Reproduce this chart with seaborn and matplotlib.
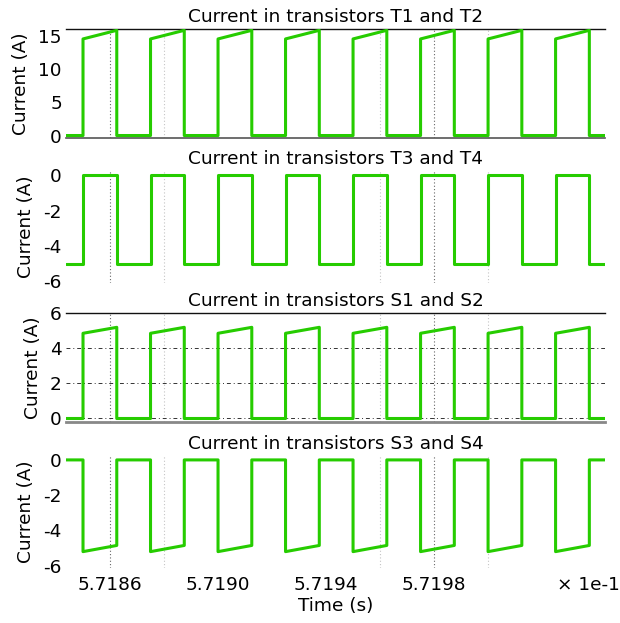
import numpy as np
import pandas as pd
import matplotlib
matplotlib.use("Agg")
import matplotlib.pyplot as plt
import seaborn as sns

# ---- data (time in seconds) ----
t_start = 0.5718437
t_end = 0.5720433
rise_times = [0.5718500, 0.5718750, 0.5719000, 0.5719250,
              0.5719500, 0.5719750, 0.5720000, 0.5720250]
fall_times = [0.5718625, 0.5718875, 0.5719125, 0.5719375,
              0.5719625, 0.5719875, 0.5720125, 0.5720375]

# levels: (off level, on-start level, on-end level)
t12_levels = [0.0, 14.6, 15.9]
t34_levels = [-5.0, 0.0, 0.0]
s12_levels = [0.0, 4.86, 5.2]
s34_levels = [0.0, -5.2, -4.85]

titles = ["Current in transistors T1 and T2",
          "Current in transistors T3 and T4",
          "Current in transistors S1 and S2",
          "Current in transistors S3 and S4"]
yticks = [[0, 5, 10, 15], [0, -2, -4, -6], [0, 2, 4, 6], [0, -2, -4, -6]]
ylims = [(-0.42, 16.1), (-6.1, 0.25), (-0.2, 6.0), (-6.1, 0.25)]
xtick_vals = [0.57186, 0.57190, 0.57194, 0.57198]
xtick_labels = ["5.7186", "5.7190", "5.7194", "5.7198"]
dark_vgrid = [0.57186, 0.57198]
light_vgrid = [0.57188, 0.57196, 0.57200]


def build(levels):
    off, on0, on1 = levels
    ts, ys = [t_start], [off]
    for r, f in zip(rise_times, fall_times):
        ts += [r, r, f, f]
        ys += [off, on0, on1, off]
    ts.append(t_end)
    ys.append(off)
    return pd.DataFrame({"t": ts, "i": ys})


series = [build(t12_levels), build(t34_levels), build(s12_levels), build(s34_levels)]

sns.set_theme(style="white")
plt.rcParams["font.family"] = ["DejaVu Sans"]
plt.rcParams["text.color"] = "black"
plt.rcParams["axes.labelcolor"] = "black"
plt.rcParams["xtick.color"] = "black"
plt.rcParams["ytick.color"] = "black"

FS = 13.3

fig = plt.figure(figsize=(6.2, 6.23), dpi=100)
W, H = 620, 623
boxes = [(29, 138.3), (171, 283), (313.3, 422), (455.5, 567.5)]
green = "#26cc00"

axes = []
for k, (top, bot) in enumerate(boxes):
    ax = fig.add_axes([66 / W, 1 - bot / H, 539 / W, (bot - top) / H])
    axes.append(ax)
    for x in dark_vgrid:
        ax.axvline(x, color="#666666", lw=0.8, ls=(0, (1, 2)), zorder=1)
    for x in light_vgrid:
        ax.axvline(x, color="#c4c4c4", lw=0.8, ls=(0, (1, 2)), zorder=1)
    if k == 2:
        for y in [0, 2, 4]:
            ax.axhline(y, color="#333333", lw=0.7, ls=(0, (4, 3, 1, 3)), zorder=1)
    sns.lineplot(data=series[k], x="t", y="i", ax=ax, sort=False, estimator=None,
                 color=green, lw=2.2, zorder=3)
    ax.set_xlim(t_start, t_end)
    ax.set_ylim(*ylims[k])
    ax.set_yticks(yticks[k])
    ax.set_yticklabels([str(v) for v in yticks[k]])
    ax.set_title(titles[k], fontsize=FS, pad=5, color="black")
    ax.set_ylabel("Current (A)", fontsize=FS, labelpad=6)
    ax.tick_params(axis="y", length=0, pad=3, labelsize=FS)
    ax.tick_params(axis="x", length=0, pad=6, labelsize=FS)
    ax.set_xticks(xtick_vals)
    if k == 3:
        ax.set_xticklabels(xtick_labels)
        ax.set_xlabel("Time (s)", fontsize=FS, labelpad=2)
    else:
        ax.set_xticklabels([])
        ax.set_xlabel("")
    for s in ["left", "right", "top", "bottom"]:
        ax.spines[s].set_visible(False)
    ax.set_facecolor("white")

# spines as seen in reference
axes[0].spines["top"].set_visible(True)
axes[0].spines["top"].set_color("#111111")
axes[0].spines["top"].set_linewidth(1.0)
axes[0].spines["bottom"].set_visible(True)
axes[0].spines["bottom"].set_color("#555555")
axes[0].spines["bottom"].set_linewidth(1.2)
axes[2].spines["top"].set_visible(True)
axes[2].spines["top"].set_color("#111111")
axes[2].spines["top"].set_linewidth(1.0)
axes[2].spines["bottom"].set_visible(True)
axes[2].spines["bottom"].set_color("#888888")
axes[2].spines["bottom"].set_linewidth(2.0)

fig.text(588 / W, 1 - 585 / H, "\u00d7 1e-1", fontsize=FS, ha="center", va="center")

fig.savefig("out.png", dpi=100)
